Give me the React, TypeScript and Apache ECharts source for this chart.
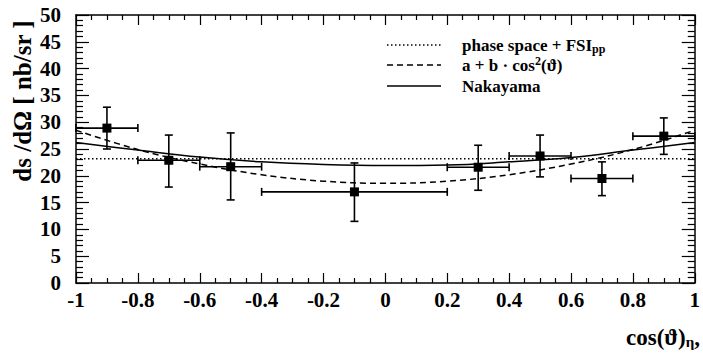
import React, { useEffect, useRef } from "react";
import * as echarts from "echarts";

// Measured points: bin centre, value, bin edges, error limits
const binCenters = [-0.9, -0.7, -0.5, -0.1, 0.3, 0.5, 0.7, 0.9];
const binLow = [-1.0, -0.8, -0.6, -0.4, 0.2, 0.4, 0.6, 0.8];
const binHigh = [-0.8, -0.6, -0.4, 0.2, 0.4, 0.6, 0.8, 1.0];
const values = [28.9, 22.9, 21.7, 17.0, 21.6, 23.7, 19.5, 27.4];
const errLow = [25.0, 17.9, 15.5, 11.5, 17.3, 19.8, 16.3, 24.0];
const errHigh = [32.8, 27.6, 28.0, 22.4, 25.7, 27.6, 22.6, 30.8];

// Curves
const curveX = [-1, -0.8, -0.6, -0.4, -0.2, 0, 0.2, 0.4, 0.6, 0.8, 1];
const phaseSpace = [23.2, 23.2, 23.2, 23.2, 23.2, 23.2, 23.2, 23.2, 23.2, 23.2, 23.2];
const cos2Fit = [28.5, 24.9, 22.2, 20.2, 19.0, 18.6, 19.0, 20.2, 22.2, 24.9, 28.5];
const nakayama = [26.2, 24.8, 23.5, 22.6, 22.1, 21.9, 22.0, 22.6, 23.4, 24.8, 26.2];

const xTicks = ["-1", "-0.8", "-0.6", "-0.4", "-0.2", "0", "0.2", "0.4", "0.6", "0.8", "1"];

const FONT = "'Liberation Serif', 'Times New Roman', serif";

export default function App() {
  const ref = useRef<HTMLDivElement>(null);
  useEffect(() => {
    if (!ref.current) return;
    const chart = echarts.init(ref.current, null, { renderer: "svg" });
    const pts = binCenters.map((x, i) => [x, values[i], binLow[i], binHigh[i], errLow[i], errHigh[i]]);
    const pair = (ys: number[]) => curveX.map((x, i) => [x, ys[i]]);

    const axisLabelStyle = { fontFamily: FONT, fontWeight: "bold", fontSize: 21, color: "#000" };
    const xCommon = {
      type: "value",
      min: -1,
      max: 1,
      interval: 0.2,
      splitLine: { show: false },
      axisLine: { show: true, onZero: false, lineStyle: { color: "#000", width: 1.5 } },
      axisTick: { show: true, inside: true, length: 10, lineStyle: { color: "#000", width: 1.2 } },
      minorTick: { show: true, splitNumber: 4, length: 5, lineStyle: { color: "#000", width: 1.2 } },
    };
    const yCommon = {
      type: "value",
      min: 0,
      max: 50,
      interval: 5,
      splitLine: { show: false },
      axisLine: { show: true, onZero: false, lineStyle: { color: "#000", width: 1.5 } },
      axisTick: { show: true, inside: true, length: 13, lineStyle: { color: "#000", width: 1.2 } },
      minorTick: { show: true, splitNumber: 5, length: 7, lineStyle: { color: "#000", width: 1.2 } },
    };

    const option: any = {
      animation: false,
      backgroundColor: "#fff",
      grid: { left: 76, right: 8, top: 15, bottom: 80, containLabel: false },
      xAxis: [
        {
          ...xCommon,
          position: "bottom",
          axisLabel: {
            ...axisLabelStyle,
            margin: 6,
            formatter: (v: number) => {
              const i = Math.round((v + 1) / 0.2);
              return xTicks[i] ?? "";
            },
          },
        },
        { ...xCommon, position: "top", axisLabel: { show: false } },
      ],
      yAxis: [
        { ...yCommon, position: "left", axisLabel: { ...axisLabelStyle, margin: 15 } },
        { ...yCommon, position: "right", axisLabel: { show: false } },
      ],
      series: [
        {
          type: "line",
          data: pair(phaseSpace),
          showSymbol: false,
          lineStyle: { color: "#000", width: 1.5, type: [1.5, 2.5] },
          z: 2,
        },
        {
          type: "line",
          data: pair(cos2Fit),
          smooth: 0.4,
          showSymbol: false,
          lineStyle: { color: "#000", width: 1.5, type: [6, 4] },
          z: 2,
        },
        {
          type: "line",
          data: pair(nakayama),
          smooth: 0.4,
          showSymbol: false,
          lineStyle: { color: "#000", width: 1.5 },
          z: 2,
        },
        {
          type: "custom",
          data: pts,
          z: 3,
          renderItem: (params: any, api: any) => {
            const c = api.coord([api.value(0), api.value(1)]);
            const xl = api.coord([api.value(2), api.value(1)]);
            const xh = api.coord([api.value(3), api.value(1)]);
            const yl = api.coord([api.value(0), api.value(4)]);
            const yh = api.coord([api.value(0), api.value(5)]);
            const st = { stroke: "#000", lineWidth: 1.6 };
            const cap = 4;
            const ln = (x1: number, y1: number, x2: number, y2: number) => ({
              type: "line",
              shape: { x1, y1, x2, y2 },
              style: st,
            });
            return {
              type: "group",
              children: [
                ln(xl[0], c[1], xh[0], c[1]),
                ln(xl[0], c[1] - cap, xl[0], c[1] + cap),
                ln(xh[0], c[1] - cap, xh[0], c[1] + cap),
                ln(c[0], yl[1], c[0], yh[1]),
                ln(c[0] - cap, yl[1], c[0] + cap, yl[1]),
                ln(c[0] - cap, yh[1], c[0] + cap, yh[1]),
                { type: "rect", shape: { x: c[0] - 4.5, y: c[1] - 4.5, width: 9, height: 9 }, style: { fill: "#000" } },
              ],
            };
          },
        },
      ],
      graphic: [
        {
          type: "text",
          x: 22,
          y: 101,
          rotation: Math.PI / 2,
          style: {
            text: "ds /dΩ [ nb/sr ]",
            fontFamily: FONT,
            fontWeight: "bold",
            fontSize: 25,
            fill: "#000",
            align: "center",
            verticalAlign: "middle",
          },
        },
        {
          type: "text",
          x: 700,
          y: 337,
          style: {
            text: "{m|cos(ϑ)}{s|η}{m|,}",
            align: "right",
            verticalAlign: "middle",
            rich: {
              m: { fontFamily: FONT, fontWeight: "bold", fontSize: 23, fill: "#000" },
              s: { fontFamily: FONT, fontWeight: "bold", fontSize: 15, fill: "#000", padding: [10, 0, 0, 0] },
            },
          },
        },
        { type: "line", shape: { x1: 387, y1: 45, x2: 441, y2: 45 }, style: { stroke: "#000", lineWidth: 1.5, lineDash: [1.5, 2.5] } },
        { type: "line", shape: { x1: 387, y1: 65, x2: 441, y2: 65 }, style: { stroke: "#000", lineWidth: 1.5, lineDash: [6, 4] } },
        { type: "line", shape: { x1: 387, y1: 86, x2: 441, y2: 86 }, style: { stroke: "#000", lineWidth: 1.5 } },
        {
          type: "text",
          x: 462,
          y: 45,
          style: {
            text: "{m|phase space + FSI}{s|pp}",
            verticalAlign: "middle",
            rich: {
              m: { fontFamily: FONT, fontWeight: "bold", fontSize: 17, fill: "#000" },
              s: { fontFamily: FONT, fontWeight: "bold", fontSize: 12, fill: "#000", padding: [8, 0, 0, 0] },
            },
          },
        },
        {
          type: "text",
          x: 462,
          y: 65,
          style: {
            text: "{m|a + b · cos}{u|2}{m|(ϑ)}",
            verticalAlign: "middle",
            rich: {
              m: { fontFamily: FONT, fontWeight: "bold", fontSize: 17, fill: "#000" },
              u: { fontFamily: FONT, fontWeight: "bold", fontSize: 12, fill: "#000", padding: [0, 0, 8, 0] },
            },
          },
        },
        {
          type: "text",
          x: 462,
          y: 86,
          style: {
            text: "Nakayama",
            fontFamily: FONT,
            fontWeight: "bold",
            fontSize: 17,
            fill: "#000",
            verticalAlign: "middle",
          },
        },
      ],
    };
    chart.setOption(option);
    return () => chart.dispose();
  }, []);
  return <div ref={ref} style={{ position: "absolute", left: 0, top: 0, width: 703, height: 363 }} />;
}
